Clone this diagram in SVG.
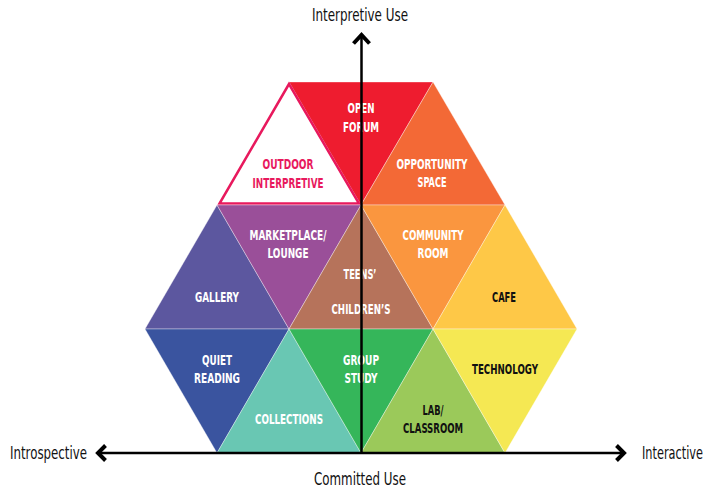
<svg xmlns="http://www.w3.org/2000/svg" width="714" height="491" viewBox="0 0 714 491">
<style>
.tri{stroke:#ffffff;stroke-opacity:0.45;stroke-width:0.8;stroke-linejoin:round}
.lbl{font-family:"DejaVu Sans Condensed","Liberation Sans Narrow","Liberation Sans",sans-serif;font-stretch:condensed;font-weight:bold;font-size:14px;fill:#ffffff;text-anchor:middle}
.dark{fill:#111111}
.pink{fill:#E8195D}
.ax{font-family:"DejaVu Sans Condensed","Liberation Sans Narrow","Liberation Sans",sans-serif;font-stretch:condensed;font-size:17px;fill:#111111}
.axis{stroke:#000;stroke-width:2.5;fill:none}
.head{stroke:#000;stroke-width:4;fill:none;stroke-linecap:butt;stroke-linejoin:miter}
</style>
<rect width="714" height="491" fill="#ffffff"/>
<g id="open-forum"><polygon class="tri" points="289,82 433,82 361,205" fill="#EE1C2F"/>
<text class="lbl" x="361" y="113" textLength="27" lengthAdjust="spacingAndGlyphs">OPEN</text>
<text class="lbl" x="361" y="132" textLength="36" lengthAdjust="spacingAndGlyphs">FORUM</text></g>
<g id="opportunity-space"><polygon class="tri" points="433,82 505,205 361,205" fill="#F36936"/>
<text class="lbl" x="432" y="169" textLength="71" lengthAdjust="spacingAndGlyphs">OPPORTUNITY</text>
<text class="lbl" x="432" y="187" textLength="29" lengthAdjust="spacingAndGlyphs">SPACE</text></g>
<g id="outdoor-interpretive"><polygon points="289,84 219.5,203.5 359,203.5" fill="#ffffff" stroke="#E8195D" stroke-width="2.5" stroke-linejoin="miter"/>
<text class="lbl pink" x="288" y="169" textLength="51" lengthAdjust="spacingAndGlyphs">OUTDOOR</text>
<text class="lbl pink" x="288" y="188" textLength="71" lengthAdjust="spacingAndGlyphs">INTERPRETIVE</text></g>
<g id="gallery"><polygon class="tri" points="217,205 289,329 145,329" fill="#5C579F"/>
<text class="lbl" x="217" y="302" textLength="44" lengthAdjust="spacingAndGlyphs">GALLERY</text></g>
<g id="marketplace-lounge"><polygon class="tri" points="217,205 361,205 289,329" fill="#9A4F99"/>
<text class="lbl" x="288" y="240" textLength="77" lengthAdjust="spacingAndGlyphs">MARKETPLACE/</text>
<text class="lbl" x="288" y="258" textLength="41" lengthAdjust="spacingAndGlyphs">LOUNGE</text></g>
<g id="teens-childrens"><polygon class="tri" points="361,205 433,329 289,329" fill="#B6735B"/>
<text class="lbl" x="360" y="279" textLength="33" lengthAdjust="spacingAndGlyphs">TEENS’</text>
<text class="lbl" x="361" y="314" textLength="59" lengthAdjust="spacingAndGlyphs">CHILDREN’S</text></g>
<g id="community-room"><polygon class="tri" points="361,205 505,205 433,329" fill="#FA963F"/>
<text class="lbl" x="433" y="240" textLength="61" lengthAdjust="spacingAndGlyphs">COMMUNITY</text>
<text class="lbl" x="433" y="258" textLength="31" lengthAdjust="spacingAndGlyphs">ROOM</text></g>
<g id="cafe"><polygon class="tri" points="505,205 577,329 433,329" fill="#FEC847"/>
<text class="lbl dark" x="504" y="302" textLength="24" lengthAdjust="spacingAndGlyphs">CAFE</text></g>
<g id="quiet-reading"><polygon class="tri" points="145,329 289,329 217,453" fill="#3A549F"/>
<text class="lbl" x="217" y="365" textLength="30" lengthAdjust="spacingAndGlyphs">QUIET</text>
<text class="lbl" x="217" y="383" textLength="46" lengthAdjust="spacingAndGlyphs">READING</text></g>
<g id="collections"><polygon class="tri" points="289,329 361,453 217,453" fill="#69C7B3"/>
<text class="lbl" x="289" y="424" textLength="68" lengthAdjust="spacingAndGlyphs">COLLECTIONS</text></g>
<g id="group-study"><polygon class="tri" points="289,329 433,329 361,453" fill="#35B65A"/>
<text class="lbl" x="361" y="365" textLength="36" lengthAdjust="spacingAndGlyphs">GROUP</text>
<text class="lbl" x="361" y="383" textLength="33" lengthAdjust="spacingAndGlyphs">STUDY</text></g>
<g id="lab-classroom"><polygon class="tri" points="433,329 505,453 361,453" fill="#9BC95A"/>
<text class="lbl dark" x="433" y="415" textLength="21" lengthAdjust="spacingAndGlyphs">LAB/</text>
<text class="lbl dark" x="433" y="433" textLength="60" lengthAdjust="spacingAndGlyphs">CLASSROOM</text></g>
<g id="technology"><polygon class="tri" points="433,329 577,329 505,453" fill="#F5E853"/>
<text class="lbl dark" x="505" y="374" textLength="66" lengthAdjust="spacingAndGlyphs">TECHNOLOGY</text></g>
<g id="connectors">
<line class="axis" x1="361.5" y1="453" x2="361.5" y2="35"/>
<polyline class="head" points="353.5,43.5 361.5,35 369.5,43.5"/>
<line class="axis" x1="97" y1="453" x2="625" y2="453"/>
<polyline class="head" points="105.5,445.5 98,453 105.5,460.5"/>
<polyline class="head" points="616.5,445.5 624,453 616.5,460.5"/>
</g>
<g id="axis-labels">
<text class="ax" x="360" y="21" text-anchor="middle" textLength="96" lengthAdjust="spacingAndGlyphs">Interpretive Use</text>
<text class="ax" x="360" y="485" text-anchor="middle" textLength="92" lengthAdjust="spacingAndGlyphs">Committed Use</text>
<text class="ax" x="10" y="459" textLength="77" lengthAdjust="spacingAndGlyphs">Introspective</text>
<text class="ax" x="703" y="459" text-anchor="end" textLength="61" lengthAdjust="spacingAndGlyphs">Interactive</text>
</g>
</svg>
